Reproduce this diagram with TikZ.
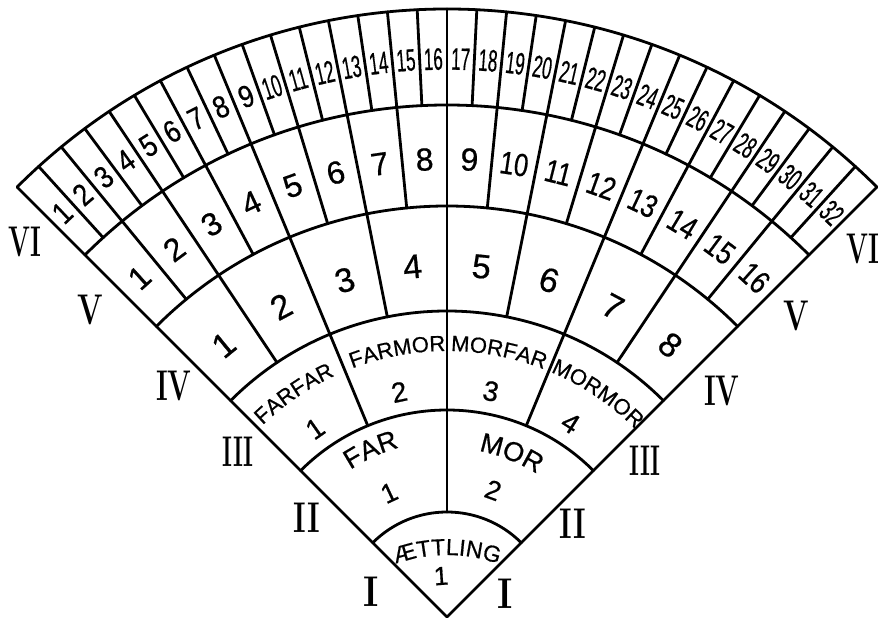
\documentclass[tikz,border=0pt]{standalone}
\usepackage{fontspec}
\setsansfont{Liberation Sans}[FakeBold=0.6]
\usetikzlibrary{calc,decorations.text}
\begin{document}
\begin{tikzpicture}[x=1pt,y=1pt,
  ln/.style={line width=2.8pt,line cap=round,line join=round},
  num/.style={font=\sffamily\fontsize{#1}{#1}\selectfont,inner sep=0pt},
  rom/.style={font=\rmfamily\bfseries\fontsize{43}{43}\selectfont,inner sep=0pt}]
\useasboundingbox (0,0) rectangle (880,619);
\coordinate (O) at (447,2);
% outer edges
\draw[ln] ($(O)+(135:608pt)$) -- (O) -- ($(O)+(45:608pt)$);
% ring arcs
\foreach \r in {105,207,306,411,512,608}{
  \draw[ln] ($(O)+(135:\r pt)$) arc[start angle=135,end angle=45,radius=\r pt];
}
% dividers
\draw[ln] ($(O)+(90:105pt)$) -- ($(O)+(90:608pt)$);
\foreach \a in {112.5,67.5}{
  \draw[ln] ($(O)+(\a:207pt)$) -- ($(O)+(\a:608pt)$);
}
\foreach \k in {0,...,3}{
  \pgfmathsetmacro\a{123.75-22.5*\k}
  \draw[ln] ($(O)+(\a:306pt)$) -- ($(O)+(\a:608pt)$);
}
\foreach \k in {0,...,7}{
  \pgfmathsetmacro\a{129.375-11.25*\k}
  \draw[ln] ($(O)+(\a:411pt)$) -- ($(O)+(\a:608pt)$);
}
\foreach \k in {0,...,15}{
  \pgfmathsetmacro\a{132.1875-5.625*\k}
  \draw[ln] ($(O)+(\a:512pt)$) -- ($(O)+(\a:608pt)$);
}
% ring VI numbers
\foreach \i in {1,...,32}{
  \pgfmathsetmacro\a{135-(\i-0.5)*2.8125}
  \pgfmathsetmacro\xs{ifthenelse(\i<10,0.85,0.55)}
  \node[num=31,rotate=\a-90,xscale=\xs] (s6-\i) at ($(O)+(\a:558pt)$) {\i};
}
% ring V numbers
\foreach \i in {1,...,16}{
  \pgfmathsetmacro\a{135-(\i-0.5)*5.625}
  \pgfmathsetmacro\xs{ifthenelse(\i<10,1,0.8)}
  \node[num=32,rotate=\a-90,xscale=\xs] (s5-\i) at ($(O)+(\a:458pt)$) {\i};
}
% ring IV numbers
\foreach \i in {1,...,8}{
  \pgfmathsetmacro\a{135-(\i-0.5)*11.25}
  \node[num=34,rotate=\a-90] (s4-\i) at ($(O)+(\a:352pt)$) {\i};
}
% ring III numbers
\foreach \a/\i in {125/1,102/2,79/3,57.5/4}{
  \node[num=28,rotate=\a-90] (s3-\i) at ($(O)+(\a:230pt)$) {\i};
}
% ring II numbers
\node[num=27,rotate=25] (s2-1) at ($(O)+(115:137pt)$) {1};
\node[num=27,rotate=-20] (s2-2) at ($(O)+(70:135pt)$) {2};
% ring I number
\node[num=26,rotate=4] (s1-1) at (441,43) {1};
% words
\path[decorate,decoration={text along path,text align=center,text={|\sffamily\fontsize{23}{23}\selectfont|ÆTTLING}}]
  ($(447,-86)+(130:150pt)$) arc[start angle=130,end angle=50,radius=150pt];
\path[decorate,decoration={text along path,text align=center,text={|\sffamily\fontsize{27}{27}\selectfont|FAR}}]
  ($(O)+(134:176pt)$) arc[start angle=134,end angle=95,radius=176pt];
\path[decorate,decoration={text along path,text align=center,text={|\sffamily\fontsize{27}{27}\selectfont|MOR}}]
  ($(O)+(88:169pt)$) arc[start angle=88,end angle=49,radius=169pt];
\path[decorate,decoration={text along path,text align=center,text={|\sffamily\fontsize{22}{22}\selectfont|FARFAR}}]
  ($(O)+(140:266pt)$) arc[start angle=140,end angle=108.8,radius=266pt];
\path[decorate,decoration={text along path,text align=center,text={|\sffamily\fontsize{22}{22}\selectfont|FARMOR}}]
  ($(O)+(116:266pt)$) arc[start angle=116,end angle=85.2,radius=266pt];
\path[decorate,decoration={text along path,text align=center,text={|\sffamily\fontsize{22}{22}\selectfont|MORFAR}}]
  ($(O)+(94.5:266pt)$) arc[start angle=94.5,end angle=63.3,radius=266pt];
\path[decorate,decoration={text along path,text align=center,text={|\sffamily\fontsize{22}{22}\selectfont|MORMOR}}]
  ($(O)+(71.6:266pt)$) arc[start angle=71.6,end angle=40.4,radius=266pt];
% roman numerals
\node[rom,xscale=0.6] (lVI) at (25,377) {VI};
\node[rom,xscale=0.7] (lV) at (90,309) {V};
\node[rom,xscale=0.65] (lIV) at (174,233) {IV};
\node[rom,xscale=0.55] (lIII) at (238,167) {III};
\node[rom,xscale=0.7] (lII) at (307,101) {II};
\node[rom,xscale=0.85] (lI) at (371,27) {I};
\node[rom,xscale=0.85] (rI) at (505,25) {I};
\node[rom,xscale=0.7] (rII) at (573,95) {II};
\node[rom,xscale=0.55] (rIII) at (645,158) {III};
\node[rom,xscale=0.65] (rIV) at (722,228) {IV};
\node[rom,xscale=0.7] (rV) at (796,303) {V};
\node[rom,xscale=0.6] (rVI) at (863,370) {VI};
\end{tikzpicture}
\end{document}
